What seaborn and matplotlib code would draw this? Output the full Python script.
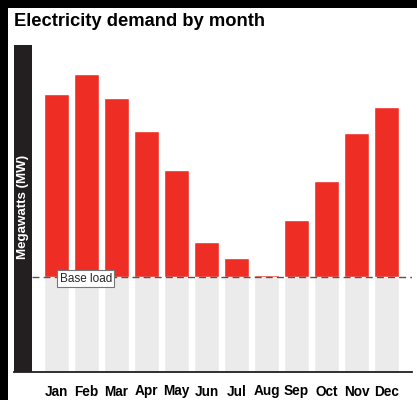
import pandas as pd
import seaborn as sns
import matplotlib.pyplot as plt
from matplotlib.patches import Rectangle

months = ["Jan", "Feb", "Mar", "Apr", "May", "Jun",
          "Jul", "Aug", "Sep", "Oct", "Nov", "Dec"]
demand_mw = [2780, 2980, 2740, 2410, 2020, 1300, 1140, 970, 1520, 1910, 2390, 2650]
base_load_mw = 950

df = pd.DataFrame({"month": months, "demand": demand_mw})
df["base"] = base_load_mw

RED = "#ee2e24"
GREY = "#ebebeb"
DARK = "#231f20"

sns.set_style("white")
plt.rcParams["font.family"] = ["Liberation Sans", "DejaVu Sans"]

fig = plt.figure(figsize=(4.17, 4.0), dpi=100, facecolor="black")
# white panel inside the black frame
fig.patches.append(Rectangle((8 / 417, 0), 409 / 417, 392 / 400,
                             transform=fig.transFigure, facecolor="white",
                             edgecolor="none", zorder=-1))

ax = fig.add_axes([14 / 417, 28 / 400, 398 / 417, 327 / 400])
ax.set_facecolor("none")

# full demand bars, then the base load part painted grey on top
sns.barplot(data=df, x="month", y="demand", color=RED, saturation=1,
            width=0.833, ax=ax, zorder=2)
sns.barplot(data=df, x="month", y="base", color=GREY, saturation=1,
            width=0.833, ax=ax, zorder=3)

ax.set_xlim(-1.417, 11.85)
ax.set_ylim(0, 3270)

# dark y-axis band with the label
ax.add_patch(Rectangle((-1.417, 0), 0.6, 3270, facecolor=DARK,
                       edgecolor="none", zorder=4))
ax.text(-1.11, 1650, "Megawatts (MW)", rotation=90, color="white",
        fontsize=9.6, fontweight="bold", ha="center", va="center", zorder=5)

# base load line and tag
ax.hlines(base_load_mw, -0.817, 11.85, color="#555555", lw=1,
          linestyles=(0, (5, 3)), zorder=5)
ax.text(0.1, 935, "Base load", fontsize=8.5, ha="left", va="center", zorder=6,
        bbox=dict(boxstyle="square,pad=0.2", facecolor="white",
                  edgecolor="#777777", lw=0.8))

for side in ["top", "right", "left"]:
    ax.spines[side].set_visible(False)
ax.spines["bottom"].set_color(DARK)
ax.spines["bottom"].set_linewidth(1.3)
ax.spines["bottom"].set_zorder(6)

ax.set_yticks([])
ax.set_xlabel("")
ax.set_ylabel("")
ax.tick_params(axis="x", length=0, pad=9)
for lab in ax.get_xticklabels():
    lab.set_fontweight("bold")
    lab.set_fontsize(9.8)
    lab.set_color("black")

fig.text(14 / 417, 1 - 22 / 400, "Electricity demand by month",
         fontsize=13.2, fontweight="bold", color="black",
         ha="left", va="center")

fig.savefig("out.png", dpi=100, facecolor=fig.get_facecolor())
